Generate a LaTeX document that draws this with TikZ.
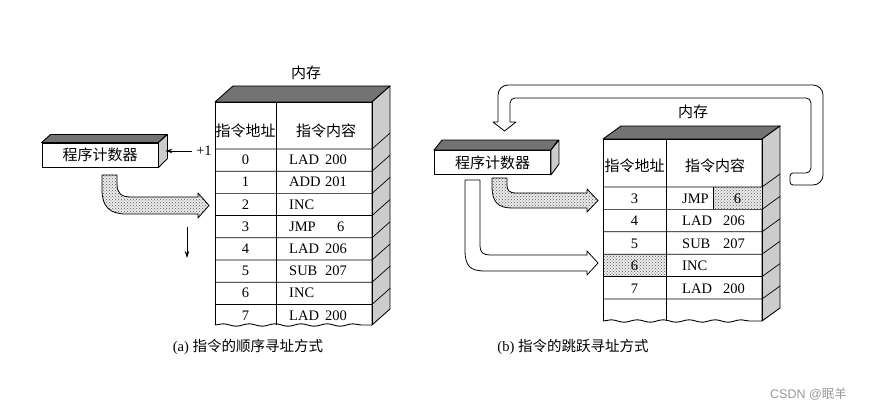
\documentclass[tikz,border=0pt]{standalone}
\usepackage{fontspec}
\setmainfont{Liberation Serif}
\newfontfamily\cjk{Noto Sans CJK SC}
\newfontfamily\marksans{Liberation Sans}
\usetikzlibrary{arrows.meta,patterns,decorations.pathmorphing,calc}

\definecolor{topgray}{gray}{0.45}
\definecolor{sidegray}{gray}{0.8}
\definecolor{dotgray}{gray}{0.35}
\definecolor{markgray}{gray}{0.6}

\tikzset{
	face/.style={draw, line width=0.9pt, line join=round},
	gridline/.style={line width=0.7pt},
	word/.style={inner sep=0pt, text height=9.5pt, text depth=0pt, font=\fontsize{14.5}{16}\selectfont},
	hanzi/.style={inner sep=0pt, font=\fontsize{15}{17}\selectfont\cjk},
	pcbox/.style={face, fill=white, minimum width=116pt, minimum height=24pt, inner sep=0pt, font=\fontsize{15}{17}\selectfont\cjk},
	dotfill/.style={pattern=crosshatch dots, pattern color=dotgray, preaction={fill=gray!15}},
	fatarrow/.style={draw, line width=0.8pt, line join=round},
	wavy/.style={decorate, decoration={snake, amplitude=1.2pt, segment length=26pt}},
	thin arrow/.style={line width=0.7pt, -{Stealth[length=7pt, width=4.5pt]}},
}

\begin{document}
\begin{tikzpicture}[x=1pt,y=1pt,yscale=-1]
		\useasboundingbox (0,0) rectangle (885,411);

		% ---------------- (a) sequential addressing ----------------

		% Program counter of (a), with its top and side faces
		\node[pcbox] (pcA) at (100,155) {程序计数器};
		\draw[face, fill=topgray] (pcA.north west) -- ++(9,-8) -- ++(116,0) -- (pcA.north east) -- cycle;
		\draw[face, fill=sidegray] (pcA.north east) -- ++(9,-8) -- ++(0,24) -- (pcA.south east) -- cycle;
		\coordinate (pcAside) at ($(pcA.east)+(7,-4)$);

		% The +1 fed into the counter
		\node[word] (incA) at (204,151) {+1};
		\draw[thin arrow, shorten <=4pt] (incA.west) -- (pcAside);

		% The small arrow pointing down (next address)
		\coordinate (nextA) at (187,227);
		\coordinate (nextAend) at (187,258);
		\draw[thin arrow] (nextA) -- (nextAend);

		% Dotted fat arrow from the counter into the memory
		\draw[fatarrow, dotfill] (102,175) -- (102,190) .. controls (102,207) and (110,214) .. (126,214) -- (198,214) -- (198,218) -- (209,205.5) -- (198,193) -- (198,197) -- (131,197) .. controls (121,197) and (117,193) .. (117,184) -- (117,175) -- cycle;

		% Memory block of (a): top face, side face, front face
		\draw[face, fill=topgray] (215,102) -- (233,86) -- (390,86) -- (372,102) -- cycle;
		\draw[face, fill=sidegray] (372,102) -- (390,86) -- (390,309) -- (372,325) -- cycle;
		\draw[face] (215,325) -- (215,102) -- (372,102) -- (372,325);
		\draw[face, wavy] (215,325) -- (372,325);
		\draw[gridline] (276,102) -- (276,325);
		\foreach \k in {0,...,7}{
			\pgfmathsetmacro{\yy}{149+22.2*\k}
			\draw[gridline] (215,\yy) -- (372,\yy) -- (390,\yy-16);
		}

		% Labels of memory (a)
		\node[hanzi] (memA) at (306,73) {内存};
		\node[hanzi] (adrHeadA) at (245.5,131) {指令地址};
		\node[hanzi] (insHeadA) at (326,131) {指令内容};
		\foreach \ad/\op/\arg [count=\k from 0] in {0/LAD/200,1/ADD/201,2/INC/,3/JMP/\hspace{12pt}6,4/LAD/206,5/SUB/207,6/INC/,7/LAD/200}{
			\pgfmathsetmacro{\yy}{149+22.2*\k+11}
			\node[word] (adrA\k) at (245.5,\yy) {\ad};
			\node[word, anchor=west] (opA\k) at (289,\yy) {\op};
			\node[word, anchor=west] (argA\k) at (325,\yy) {\arg};
		}

		% Caption (a)
		\node[word] (capA) at (248,347) {(a) {\cjk 指令的顺序寻址方式}};

		% ---------------- (b) jump addressing ----------------

		% Program counter of (b)
		\node[pcbox] (pcB) at (492.5,162.5) {程序计数器};
		\draw[face, fill=topgray] (pcB.north west) -- ++(8,-10) -- ++(116,0) -- (pcB.north east) -- cycle;
		\draw[face, fill=sidegray] (pcB.north east) -- ++(8,-10) -- ++(0,24) -- (pcB.south east) -- cycle;

		% Big loop arrow from JMP target back to the counter
		\draw[fatarrow, fill=white] (504.5,131) -- (516,122) -- (510,122) [rounded corners=5pt] -- (510,98) -- (811,98) -- (811,173) [rounded corners=3pt] -- (790,173) -- (790,185) [rounded corners=10pt] -- (823,185) -- (823,85) -- (498,85) [sharp corners] -- (498,122) -- (493,122) -- cycle;

		% Dotted fat arrow (current address) and white fat arrow (jump address)
		\draw[fatarrow, dotfill] (492,178) -- (492,186) .. controls (492,202) and (498,208) .. (512,208) -- (587,208) -- (587,212) -- (598,200.5) -- (587,189) -- (587,193) -- (516,193) .. controls (509,193) and (507,190) .. (507,185) -- (507,178) -- cycle;
		\draw[fatarrow, fill=white] (465,180) -- (465,250) .. controls (465,266) and (470,271) .. (485,271) -- (587,271) -- (587,275) -- (598,263) -- (587,251) -- (587,255) -- (490,255) .. controls (483,255) and (480,252) .. (480,246) -- (480,180) -- cycle;

		% Memory block of (b)
		\draw[face, fill=topgray] (603,139) -- (621,126) -- (780,126) -- (762,139) -- cycle;
		\draw[face, fill=sidegray] (762,139) -- (780,126) -- (780,308) -- (762,321) -- cycle;
		\fill[dotfill] (713,187) rectangle (762,209.4);
		\fill[dotfill] (603,254.2) rectangle (666,276.6);
		\draw[face] (603,321) -- (603,139) -- (762,139) -- (762,321);
		\draw[face, wavy] (603,321) -- (762,321);
		\draw[gridline] (666,139) -- (666,321);
		\draw[gridline] (713,187) -- (713,209.4);
		\foreach \k in {0,...,5}{
			\pgfmathsetmacro{\yy}{187+22.4*\k}
			\draw[gridline] (603,\yy) -- (762,\yy) -- (780,\yy-13);
		}

		% Labels of memory (b)
		\node[hanzi] (memB) at (693,112) {内存};
		\node[hanzi] (adrHeadB) at (634.5,166) {指令地址};
		\node[hanzi] (insHeadB) at (715,166) {指令内容};
		\foreach \ad/\op/\arg [count=\k from 0] in {3/JMP/,4/LAD/206,5/SUB/207,6/INC/,7/LAD/200}{
			\pgfmathsetmacro{\yy}{187+22.4*\k+11.7}
			\node[word] (adrB\k) at (634.5,\yy) {\ad};
			\node[word, anchor=west] (opB\k) at (682,\yy) {\op};
			\node[word, anchor=west] (argB\k) at (723,\yy) {\arg};
		}
		\node[word] (jumpB) at (737.5,198.9) {6};

		% Caption (b)
		\node[word] (capB) at (573,347) {(b) {\cjk 指令的跳跃寻址方式}};

		% Watermark
		\node[anchor=west, inner sep=0pt, text=markgray, font=\fontsize{12.5}{14}\selectfont\marksans] (mark) at (770,394) {CSDN @{\cjk 眠羊}};
	\end{tikzpicture}
\end{document}
